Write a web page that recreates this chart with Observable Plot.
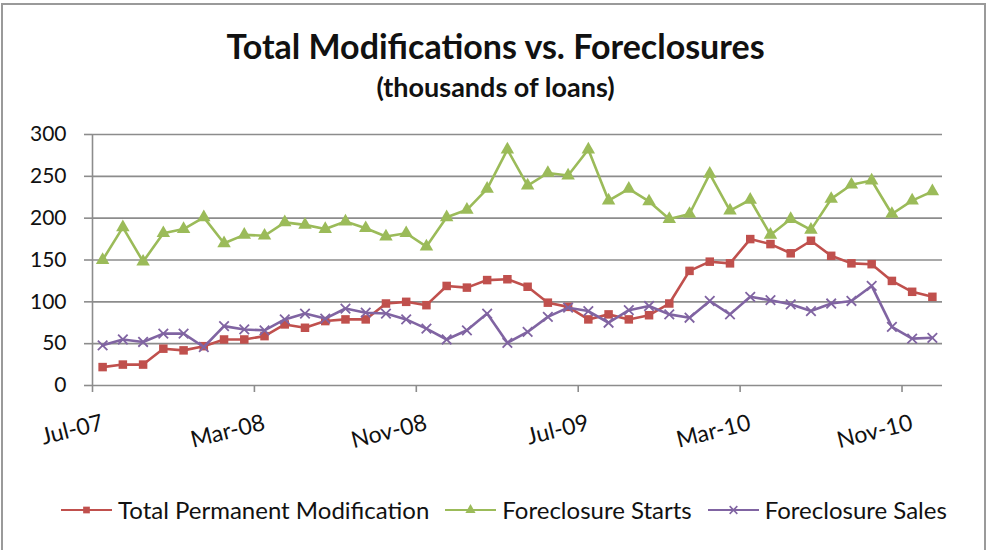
<!DOCTYPE html>
<html>
<head>
<meta charset="utf-8">
<script src="https://cdn.jsdelivr.net/npm/d3@7"></script>
<script src="https://cdn.jsdelivr.net/npm/@observablehq/plot@0.6"></script>
<style>
  html, body { margin: 0; padding: 0; background: #fff; }
  #wrap { position: relative; width: 991px; height: 550px; overflow: hidden; font-family: Lato, "Noto Sans", sans-serif; color: #111; }
  #frame { position: absolute; left: 1px; top: 3px; width: 985px; height: 600px; border: 2px solid #9a9a9a; border-bottom: none; box-sizing: border-box; }
  #title { position: absolute; left: 0; width: 991px; top: 25px; text-align: center; font-weight: 700; font-size: 34px; line-height: 42px; }
  #subtitle { position: absolute; left: 0; width: 991px; top: 71px; text-align: center; font-weight: 700; font-size: 27px; line-height: 32px; }
  #chart { position: absolute; left: 0; top: 110px; }
  #legend { position: absolute; left: 61px; top: 495px; display: flex; align-items: center; font-size: 24px; line-height: 30px; white-space: nowrap; }
  .item { display: flex; align-items: center; margin-right: 16px; }
  .item svg { margin-right: 6px; }
</style>
</head>
<body>
<div id="wrap">
  <div id="frame"></div>
  <div id="title">Total Modifications vs. Foreclosures</div>
  <div id="subtitle">(thousands of loans)</div>
  <div id="chart"></div>
  <div id="legend"></div>
</div>
<script>
const months = ["Jul-07","Aug-07","Sep-07","Oct-07","Nov-07","Dec-07",
  "Jan-08","Feb-08","Mar-08","Apr-08","May-08","Jun-08","Jul-08","Aug-08","Sep-08","Oct-08","Nov-08","Dec-08",
  "Jan-09","Feb-09","Mar-09","Apr-09","May-09","Jun-09","Jul-09","Aug-09","Sep-09","Oct-09","Nov-09","Dec-09",
  "Jan-10","Feb-10","Mar-10","Apr-10","May-10","Jun-10","Jul-10","Aug-10","Sep-10","Oct-10","Nov-10","Dec-10"];

const totalPermanentModification = [22,25,25,44,42,47,55,55,59,73,69,77,79,79,98,100,96,119,117,126,127,118,99,94,79,85,79,84,98,137,148,146,175,169,158,173,155,146,145,125,112,106];
const foreclosureStarts = [150,189,148,182,187,201,170,180,179,195,192,187,196,188,178,182,166,201,210,235,282,239,254,251,282,221,235,220,199,205,253,209,222,180,199,186,223,240,245,205,221,232];
const foreclosureSales = [48,55,52,62,62,46,71,67,66,79,86,80,92,87,86,79,68,55,66,86,51,64,82,93,89,75,90,95,85,81,101,85,106,102,97,89,98,101,119,70,56,57];

const yTicks = [0, 50, 100, 150, 200, 250, 300];
const xTickLabels = ["Jul-07","Mar-08","Nov-08","Jul-09","Mar-10","Nov-10"];

const seriesNames = ["Total Permanent Modification", "Foreclosure Starts", "Foreclosure Sales"];
const seriesColors = ["#C0504D", "#9BBB59", "#8064A2"];
const seriesSymbols = ["square", "triangle", "times"];
const seriesValues = [totalPermanentModification, foreclosureStarts, foreclosureSales];

const labelIdx = xTickLabels.map(l => months.indexOf(l));
const boundaries = labelIdx.map(i => i - 0.5);

const rows = seriesNames.flatMap((name, s) => seriesValues[s].map((v, i) => ({series: name, i, v})));

const gridColor = "#8c8c8c";

const marks = [
  Plot.gridY(yTicks, {stroke: gridColor, strokeOpacity: 1, strokeWidth: 1.6}),
  Plot.ruleX([-0.5], {y1: 0, y2: 300, stroke: gridColor, strokeWidth: 1.6}),
  Plot.axisY(yTicks, {tickSize: 8, tickPadding: 18, stroke: gridColor, strokeWidth: 1.6, fontSize: 21, fill: "#111", label: null}),
  Plot.axisX(boundaries, {tickSize: 7, tickFormat: () => "", stroke: gridColor, strokeWidth: 1.6, label: null}),
  Plot.axisX(labelIdx, {tickSize: 0, tickFormat: i => months[i], tickRotate: -14, textAnchor: "end", lineAnchor: "middle", dy: 24, dx: 0, fontSize: 23, fill: "#111", label: null})
];

seriesNames.forEach((name, s) => {
  const data = rows.filter(d => d.series === name);
  marks.push(Plot.line(data, {x: "i", y: "v", stroke: seriesColors[s], strokeWidth: 2.6}));
  if (seriesSymbols[s] === "times") {
    marks.push(Plot.dot(data, {x: "i", y: "v", symbol: "times", r: 4.4, stroke: seriesColors[s], strokeWidth: 1.8, fill: "none"}));
  } else {
    marks.push(Plot.dot(data, {x: "i", y: "v", symbol: seriesSymbols[s], r: seriesSymbols[s] === "square" ? 4.8 : 5, fill: seriesColors[s], stroke: "none"}));
  }
});

const chart = Plot.plot({
  width: 991,
  height: 340,
  marginTop: 24,
  marginBottom: 65,
  marginLeft: 92,
  marginRight: 49,
  x: {type: "linear", domain: [-0.5, months.length - 0.5]},
  y: {domain: [0, 300]},
  style: {fontFamily: "Lato, 'Noto Sans', sans-serif", background: "transparent", overflow: "visible"},
  marks
});
document.getElementById("chart").appendChild(chart);

// legend
const legend = document.getElementById("legend");
seriesNames.forEach((name, s) => {
  const item = document.createElement("div");
  item.className = "item";
  const isTimes = seriesSymbols[s] === "times";
  const symType = seriesSymbols[s] === "square" ? d3.symbolSquare : seriesSymbols[s] === "triangle" ? d3.symbolTriangle : d3.symbolTimes;
  const sym = d3.symbol(symType, isTimes ? 40 : 45)();
  item.innerHTML = `<svg width="51" height="14" viewBox="0 0 51 14"><line x1="0" x2="51" y1="7" y2="7" stroke="${seriesColors[s]}" stroke-width="2.2"/><path transform="translate(25.5,7)" d="${sym}" fill="${isTimes ? "none" : seriesColors[s]}" stroke="${isTimes ? seriesColors[s] : "none"}" stroke-width="1.6"/></svg><span>${name}</span>`;
  legend.appendChild(item);
});
</script>
</body>
</html>
